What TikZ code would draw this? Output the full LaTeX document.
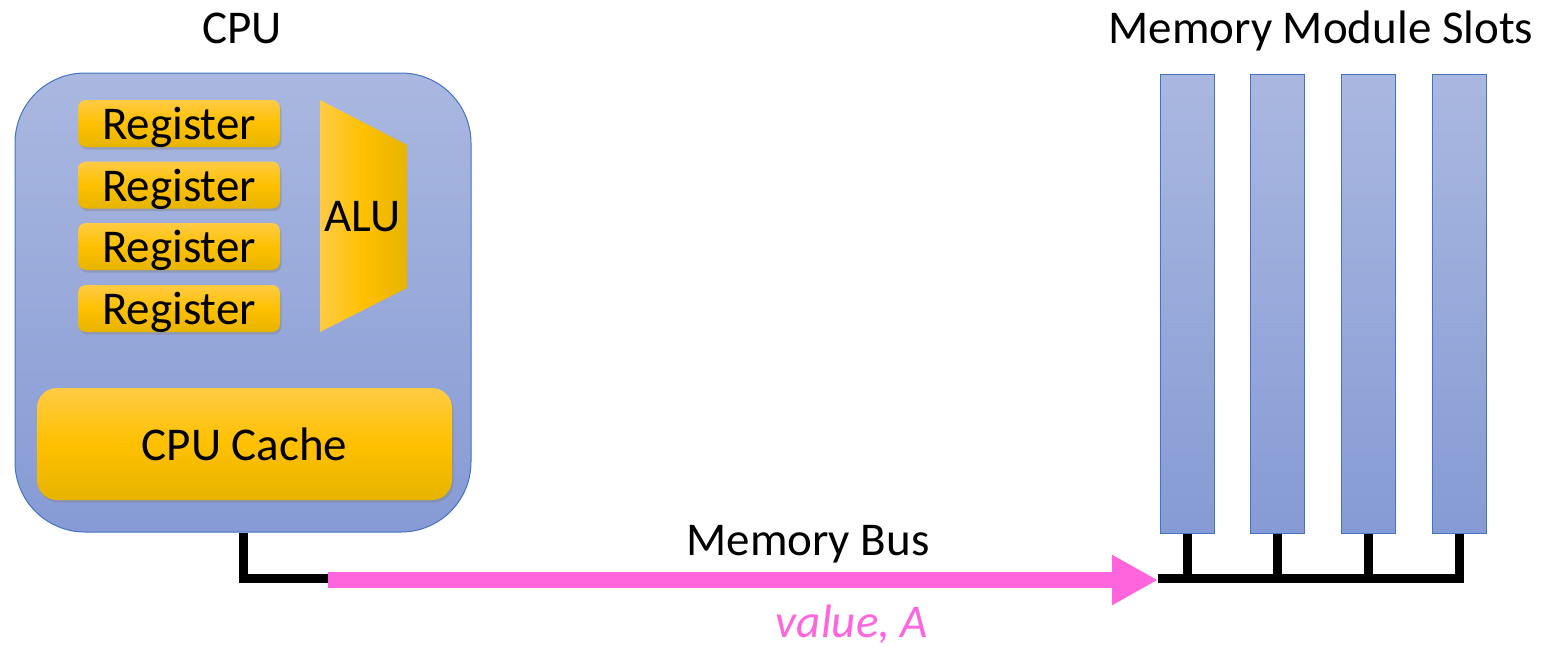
\documentclass[tikz,border=0pt]{standalone}
\usepackage{fontspec}
\setmainfont{Carlito}
\usetikzlibrary{arrows.meta,shadows}
\definecolor{cpublue}{HTML}{4472C4}
\definecolor{cputop}{HTML}{AAB8E0}
\definecolor{cpubot}{HTML}{869BD5}
\definecolor{regtop}{HTML}{FFCB45}
\definecolor{regmid}{HTML}{FFC000}
\definecolor{regbot}{HTML}{E6B400}
\definecolor{buspink}{HTML}{FF66DD}

\begin{document}
\begin{tikzpicture}[x=1pt, y=-1pt,
	every node/.style={font=\fontsize{47}{56}\selectfont},
	box/.style={draw=cpublue, line width=1pt, top color=cputop, bottom color=cpubot, inner sep=0pt},
	reg/.style={rounded corners=8pt, top color=regtop, bottom color=regbot, middle color=regmid, minimum width=202pt, minimum height=47pt, inner sep=0pt, text depth=0pt, drop shadow={shadow xshift=1.5pt, shadow yshift=-2.5pt, opacity=.4}},
	slot/.style={box, minimum width=54pt, minimum height=459pt},
	bus/.style={line width=9pt}]
		\useasboundingbox (0,0) rectangle (1545,646);
		\node[anchor=base] (cpulabel) at (242,43) {CPU};
		\node[anchor=base] (slotlabel) at (1321,43) {Memory Module Slots};
		\node[box, rounded corners=70pt, minimum width=456pt, minimum height=459pt] (cpu) at (243,302.5) {};
		\node[reg] (reg1) at (179,123.5) {Register};
		\node[reg] (reg2) at (179,185) {Register};
		\node[reg] (reg3) at (179,246.5) {Register};
		\node[reg] (reg4) at (179,308.5) {Register};
		\shade[left color=regtop, right color=regbot, middle color=regmid] (320,100) -- (407,145) -- (407,288) -- (320,332) -- cycle;
		\node (alu) at (362.5,217) {ALU};
		\node[reg, rounded corners=20pt, minimum width=415pt, minimum height=112pt] (cache) at (244.5,444) {CPU Cache};
		\node[slot] (slot1) at (1187,303.5) {};
		\node[slot] (slot2) at (1277.5,303.5) {};
		\node[slot] (slot3) at (1368.5,303.5) {};
		\node[slot] (slot4) at (1459,303.5) {};
		\coordinate (busL) at (328,578);
		\coordinate (busR) at (1158,580);
		\draw[bus] (cpu.south) |- (busL);
		\draw[bus] (busR |- busL) -| (slot4.south);
		\draw[bus] (slot1.south) -- (slot1.south |- busL);
		\draw[bus] (slot2.south) -- (slot2.south |- busL);
		\draw[bus] (slot3.south) -- (slot3.south |- busL);
		\draw[buspink, line width=16pt, -{Triangle[length=46pt, width=47pt]}] (busL |- busR) -- (busR);
		\node[anchor=base] (buslabel) at (808,555) {Memory Bus};
		\node[anchor=base, inner sep=0pt, text=buspink, font=\fontsize{47}{56}\selectfont\itshape] (value) at (852,637) {value, A};
	\end{tikzpicture}
\end{document}
